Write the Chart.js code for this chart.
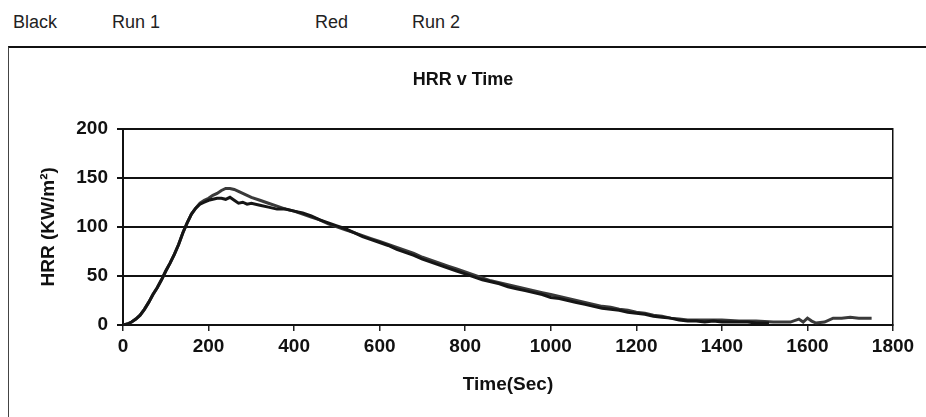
<!DOCTYPE html>
<html lang="en">
  <head>
    <meta charset="UTF-8" />
    <script src="https://cdn.jsdelivr.net/npm/chart.js@4.4.1/dist/chart.umd.min.js"></script>
    <title>HRR v Time</title>
    <style>
      body {
        margin: 0;
        padding: 0;
        background: #fff;
        font-family: 'Liberation Sans', Arial, sans-serif;
      }
      .wrap {
        position: relative;
        width: 926px;
        height: 417px;
        overflow: hidden;
      }
      .note {
        position: absolute;
        top: 12px;
        font-size: 18px;
        color: #222;
      }
      .frame {
        position: absolute;
        left: 8px;
        top: 46px;
        width: 940px;
        height: 400px;
        border-top: 2px solid #111;
        border-left: 1px solid #444;
      }
      canvas {
        position: absolute;
        left: 0;
        top: 0;
      }
    </style>
  </head>
  <body>
    <div class="wrap">
      <span class="note" style="left: 13px">Black</span>
      <span class="note" style="left: 112px">Run 1</span>
      <span class="note" style="left: 315px">Red</span>
      <span class="note" style="left: 412px">Run 2</span>
      <div class="frame"></div>
      <canvas id="hrrChart" width="926" height="417"></canvas>
    </div>
    <script>
      // time (s) and HRR (kW/m2)
      const run1Time = [0,10,20,30,40,50,60,70,80,90,100,110,120,130,140,150,160,170,180,190,200,210,220,230,240,250,260,270,280,290,300,320,340,360,380,400,420,440,460,480,500,520,540,560,580,600,620,640,660,680,700,720,740,760,780,800,820,840,860,880,900,920,940,960,980,1000,1020,1040,1060,1080,1100,1120,1140,1160,1180,1200,1220,1240,1260,1280,1300,1320,1340,1360,1380,1400,1420,1440,1460,1480,1500,1510]
      const run1HRR = [0,1,3,6,10,16,23,31,38,46,55,63,72,82,94,104,113,119,123,125,127,128,129,129,128,130,127,124,125,123,124,122,120,118,118,116,114,111,107,104,101,98,94,90,87,84,81,77,74,71,67,64,61,58,55,52,49,46,44,42,39,37,35,33,31,28,27,25,23,21,19,17,16,15,13,12,11,9,8,7,5,4,4,3,4,3,3,3,3,2,2,2]

      const run2Time = [0,10,20,30,40,50,60,70,80,90,100,110,120,130,140,150,160,170,180,190,200,210,220,230,240,250,260,270,280,290,300,320,340,360,380,400,420,440,460,480,500,520,540,560,580,600,620,640,660,680,700,720,740,760,780,800,820,840,860,880,900,920,940,960,980,1000,1020,1040,1060,1080,1100,1120,1140,1160,1180,1200,1220,1240,1260,1280,1300,1320,1340,1360,1400,1440,1480,1520,1560,1580,1590,1600,1610,1620,1640,1660,1680,1700,1720,1740,1750]
      const run2HRR = [0,1,3,6,10,16,23,31,38,46,55,63,72,82,94,104,113,119,124,127,129,132,134,137,139,139,138,136,134,132,130,127,124,121,118,116,113,110,107,103,100,97,94,91,88,85,82,79,76,73,69,66,63,60,57,54,51,48,45,43,41,39,37,35,33,31,29,27,25,23,21,19,18,16,15,13,12,10,9,7,6,5,5,5,5,4,4,3,3,6,3,7,4,2,3,7,7,8,7,7,7]

      const xTicks = [0,200,400,600,800,1000,1200,1400,1600,1800]
      const yTicks = [0,50,100,150,200]

      const toPoints = (ts, vs) => ts.map((t, i) => ({ x: t, y: vs[i] }))

      const font = { family: "'Liberation Sans', Arial, sans-serif", weight: 'bold', size: 19 }

      new Chart(document.getElementById('hrrChart').getContext('2d'), {
        type: 'line',
        data: {
          datasets: [
            {
              label: 'Run 1',
              data: toPoints(run1Time, run1HRR),
              borderColor: '#151515',
              borderWidth: 3,
              pointRadius: 0,
              tension: 0,
            },
            {
              label: 'Run 2',
              data: toPoints(run2Time, run2HRR),
              borderColor: '#3a3a3a',
              borderWidth: 3,
              pointRadius: 0,
              tension: 0,
            },
          ],
        },
        options: {
          responsive: false,
          animation: false,
          layout: { padding: { left: 0, right: 0, top: 0, bottom: 0 } },
          plugins: {
            legend: { display: false },
            tooltip: { enabled: false },
            title: {
              display: true,
              text: 'HRR v Time',
              color: '#111',
              font: { ...font, size: 18 },
              padding: { top: 69, bottom: 38 },
            },
          },
          scales: {
            x: {
              type: 'linear',
              min: 0,
              max: 1800,
              afterBuildTicks: (s) => { s.ticks = xTicks.map((v) => ({ value: v })) },
              afterFit: (s) => { s.height = 92 },
              grid: { drawOnChartArea: false, drawTicks: true, tickLength: 6, color: '#222', lineWidth: 1.5 },
              border: { color: '#111', width: 2 },
              ticks: { color: '#111', font, padding: 4, maxRotation: 0, callback: (v) => String(v) },
              title: { display: true, text: 'Time(Sec)', color: '#111', font, padding: { top: 0, bottom: 21 } },
            },
            y: {
              min: 0,
              max: 200,
              afterBuildTicks: (s) => { s.ticks = yTicks.map((v) => ({ value: v })) },
              afterFit: (s) => { s.width = 123 },
              grid: { color: '#111', lineWidth: 2, tickLength: 6 },
              border: { color: '#111', width: 2 },
              ticks: { color: '#111', font, padding: 9, callback: (v) => String(v) },
              title: { display: true, text: 'HRR (KW/m²)', color: '#111', font, padding: { top: 37, bottom: 0 } },
            },
            yRight: {
              position: 'right',
              min: 0,
              max: 200,
              afterFit: (s) => { s.width = 33 },
              grid: { display: false },
              border: { color: '#111', width: 1.5 },
              ticks: { display: false },
            },
          },
        },
      })
    </script>
  </body>
</html>
